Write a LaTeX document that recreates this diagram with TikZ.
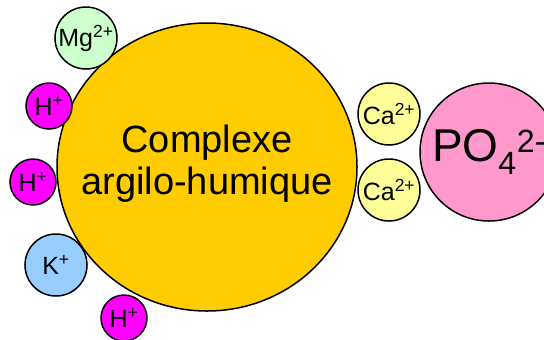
\documentclass[tikz,border=0pt]{standalone}
\usepackage{fontspec}
\setmainfont{Liberation Sans}
\usetikzlibrary{shapes.geometric}
\definecolor{ClayGold}{RGB}{255,204,0}
\definecolor{IonMagenta}{RGB}{255,0,255}
\definecolor{IonGreen}{RGB}{204,255,204}
\definecolor{IonBlue}{RGB}{153,204,255}
\definecolor{IonYellow}{RGB}{255,255,153}
\definecolor{IonPink}{RGB}{255,153,204}
\tikzset{
	ion/.style={circle,draw=black,line width=1.5bp,inner sep=0pt,
		font=\fontsize{25bp}{27bp}\selectfont},
	small/.style={ion,minimum size=46bp},
	large/.style={ion,minimum size=62bp},
}
\begin{document}
\begin{tikzpicture}[x=1bp,y=-1bp]
	\useasboundingbox (0,0) rectangle (544,339);
	\clip (0,0) rectangle (544,339);
	\node[ellipse,draw=black,line width=1.5bp,fill=ClayGold,inner sep=0pt,
		minimum width=300bp,minimum height=288bp] (clay) at (207,167) {};
	\node[align=center,font=\fontsize{38bp}{42bp}\selectfont] (claytext)
		at (207,164) {Complexe\\argilo-humique};
	\node[large,fill=IonGreen] (mg) at (86,38) {Mg\textsuperscript{2+}};
	\node[small,fill=IonMagenta] (h1) at (49,106) {H\textsuperscript{+}};
	\node[small,fill=IonMagenta] (h2) at (33,182) {H\textsuperscript{+}};
	\node[large,fill=IonBlue] (k) at (56,265) {K\textsuperscript{+}};
	\node[small,fill=IonMagenta] (h3) at (124,318) {H\textsuperscript{+}};
	\node[large,fill=IonYellow] (ca1) at (389,114) {Ca\textsuperscript{2+}};
	\node[large,fill=IonYellow] (ca2) at (389,190) {Ca\textsuperscript{2+}};
	\node[ion,fill=IonPink,minimum size=138bp,
		font=\fontsize{46bp}{48bp}\selectfont] (po) at (489,152)
		{PO\textsubscript{4}\textsuperscript{2-}};
\end{tikzpicture}
\end{document}
